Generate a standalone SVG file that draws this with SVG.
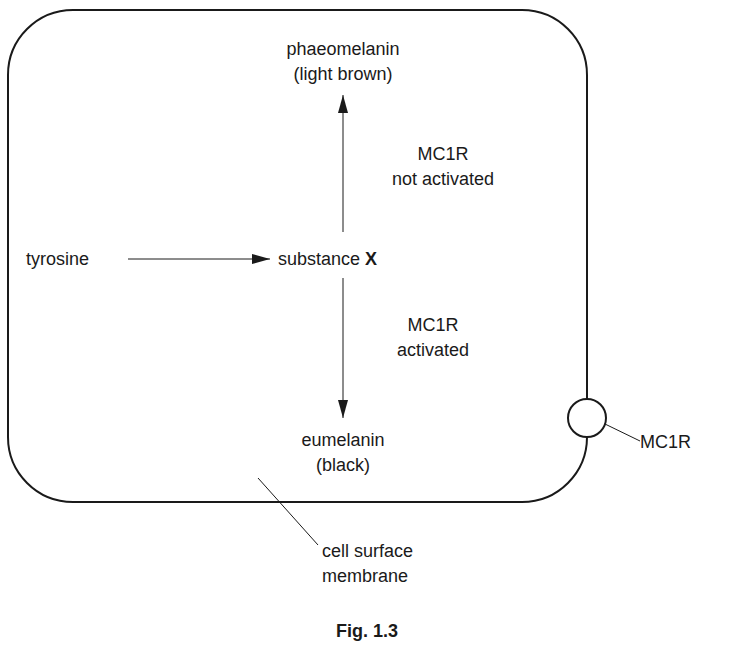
<svg xmlns="http://www.w3.org/2000/svg" width="735" height="657" viewBox="0 0 735 657">
<style>
text{font-family:"Liberation Sans",Arial,sans-serif;font-size:18px;fill:#1a1a1a}
.c{text-anchor:middle}
.l{stroke:#1a1a1a;fill:none;stroke-width:2}
.t{stroke:#1a1a1a;fill:none;stroke-width:1}
</style>
<defs><marker id="a" viewBox="0 0 18 10" refX="18" refY="5" markerWidth="18" markerHeight="10" markerUnits="userSpaceOnUse" orient="auto"><path d="M0,0L18,5L0,10z" fill="#1a1a1a"/></marker></defs>
<rect width="735" height="657" fill="#fff"/>
<g id="cell">
<path class="l" d="M587,399V75A65,65 0 0 0 522,10H73A65,65 0 0 0 8,75V437A65,65 0 0 0 73,502H522A65,65 0 0 0 587,437"/>
</g>
<g id="mc1r"><circle class="l" cx="587" cy="418" r="19"/><text x="640" y="448">MC1R</text></g>
<g id="tyrosine"><text x="26" y="265">tyrosine</text></g>
<g id="substanceX"><text x="278" y="265">substance <tspan font-weight="bold">X</tspan></text></g>
<g id="phaeomelanin"><text class="c" x="343" y="55">phaeomelanin</text><text class="c" x="343" y="80">(light brown)</text></g>
<g id="eumelanin"><text class="c" x="343" y="446">eumelanin</text><text class="c" x="343" y="471">(black)</text></g>
<g id="labels">
<text class="c" x="443" y="160">MC1R</text><text class="c" x="443" y="185">not activated</text>
<text class="c" x="433" y="331">MC1R</text><text class="c" x="433" y="356">activated</text>
<text x="322" y="557">cell surface</text><text x="322" y="582">membrane</text>
<text class="c" x="367" y="637" font-weight="bold">Fig. 1.3</text>
</g>
<g id="connectors">
<line class="t" x1="128" y1="259" x2="270" y2="259" stroke-width="1.5" marker-end="url(#a)"/>
<line class="t" x1="343" y1="232" x2="343" y2="95" stroke-width="1.5" marker-end="url(#a)"/>
<line class="t" x1="343" y1="278" x2="343" y2="418" stroke-width="1.5" marker-end="url(#a)"/>
<line class="t" x1="605" y1="424" x2="640" y2="441"/>
<line class="t" x1="258" y1="478" x2="318" y2="545"/>
</g>
</svg>
